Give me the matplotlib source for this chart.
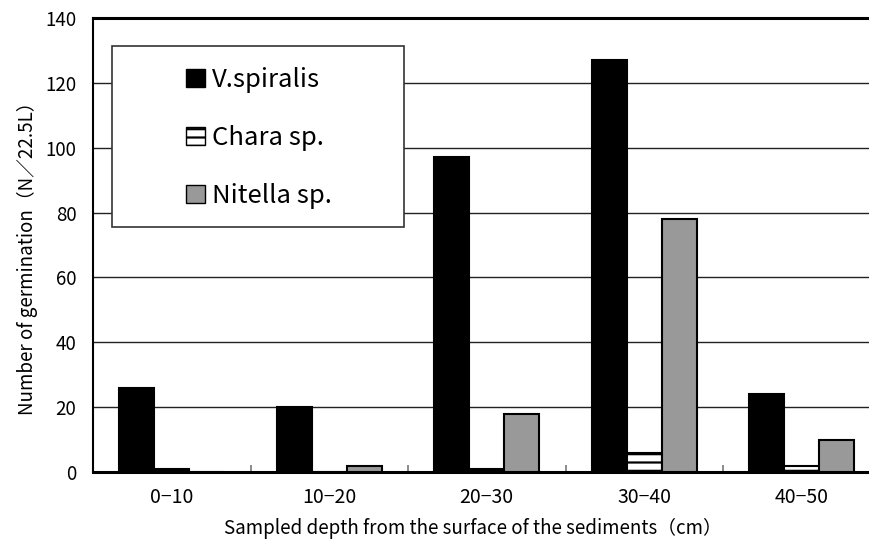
import matplotlib
matplotlib.use("Agg")
import matplotlib.pyplot as plt
from matplotlib.patches import Rectangle, Patch
import numpy as np

plt.rcParams['font.family'] = ['Noto Sans CJK JP', 'DejaVu Sans']
plt.rcParams['hatch.linewidth'] = 1.6

categories = ['0−10', '10−20', '20−30', '30−40', '40−50']
v_spiralis = [26, 20, 97, 127, 24]
chara = [1, 0, 1, 6, 2]
nitella = [0, 2, 18, 78, 10]
yticks = [0, 20, 40, 60, 80, 100, 120, 140]

fig = plt.figure(figsize=(8.7, 5.44), dpi=100)
ax = fig.add_axes([93/870, 72/544, 787.5/870, 454/544])

x = np.arange(len(categories))
w = 35/157.5
ax.bar(x - w, v_spiralis, w, color='black', edgecolor='black', linewidth=1.5, zorder=3)
ax.bar(x, chara, w, color='white', edgecolor='black', hatch='--', linewidth=1.5, zorder=3)
ax.bar(x + w, nitella, w, color='#999999', edgecolor='black', linewidth=1.5, zorder=3)

ax.set_xlim(-0.5, len(categories) - 0.5)
ax.set_ylim(0, 140)
ax.set_yticks(yticks)
ax.set_yticklabels([str(t) for t in yticks], fontsize=13.5)
ax.set_xticks(x)
ax.set_xticklabels(categories, fontsize=14)
ax.set_xticks(x[:-1] + 0.5, minor=True)
ax.tick_params(axis='x', which='major', length=0, pad=11)
ax.tick_params(axis='x', which='minor', direction='in', length=5, color='#777777', width=1.2)
ax.tick_params(axis='y', length=0, pad=12)
ax.yaxis.grid(True, color='#222222', linewidth=1.0, zorder=0)
ax.set_axisbelow(True)

for s in ['top', 'bottom']:
    ax.spines[s].set_linewidth(2.2)
    ax.spines[s].set_color('black')
ax.spines['left'].set_linewidth(1.5)
ax.spines['right'].set_visible(False)

ax.set_ylabel('Number of germination（N／22.5L）', fontsize=13.5)
ax.yaxis.label.set_va('center')
ax.yaxis.set_label_coords((27-93)/787.5, (472-254)/454)
ax.set_xlabel('Sampled depth from the surface of the sediments（cm）', fontsize=13.5)
ax.xaxis.label.set_va('center')
ax.xaxis.set_label_coords((473-93)/787.5, (472-528)/454)

# legend frame
ax.add_patch(Rectangle((19/787.5, (472-227)/454), (404-112)/787.5, (227-46)/454,
                       transform=ax.transAxes, facecolor='white', edgecolor='#333333',
                       linewidth=1.2, zorder=5))
handles = [Patch(facecolor='black', edgecolor='black'),
           Patch(facecolor='white', edgecolor='black', hatch='--'),
           Patch(facecolor='#999999', edgecolor='black')]
leg = ax.legend(handles, ['V.spiralis', 'Chara sp.', 'Nitella sp.'],
                loc='center left', bbox_to_anchor=((186-93)/787.5, (472-138)/454),
                frameon=False, fontsize=18.5, handlelength=0.73, handleheight=0.73,
                handletextpad=0.27, labelspacing=1.25, borderpad=0, borderaxespad=0)
leg.set_zorder(6)

fig.savefig('out.png', dpi=100)
